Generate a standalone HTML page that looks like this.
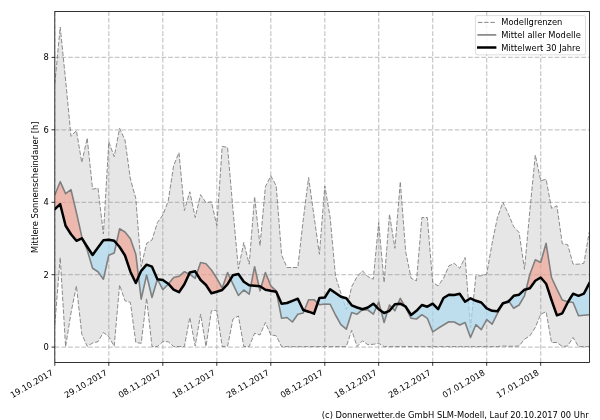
<!DOCTYPE html>
<html lang="de"><head><meta charset="utf-8"><title>Mittlere Sonnenscheindauer</title>
<style>html,body{margin:0;padding:0;background:#fff}body{width:600px;height:420px;overflow:hidden}</style></head>
<body>
<svg width="600" height="420" viewBox="0 0 600 420" style="display:block;font-family:'DejaVu Sans','Liberation Sans',sans-serif;font-size:8.33px">
<rect width="600" height="420" fill="#fff"/>
<defs><clipPath id="c"><rect x="54.8" y="11.5" width="534.6" height="351.0"/></clipPath></defs>
<g clip-path="url(#c)">
<g stroke="#b0b0b0" stroke-opacity="0.7" stroke-width="1.25" stroke-dasharray="4.7 1.965">
<line x1="54.8" y1="362.5" x2="54.8" y2="11.5"/>
<line x1="108.8" y1="362.5" x2="108.8" y2="11.5"/>
<line x1="162.8" y1="362.5" x2="162.8" y2="11.5"/>
<line x1="216.8" y1="362.5" x2="216.8" y2="11.5"/>
<line x1="270.8" y1="362.5" x2="270.8" y2="11.5"/>
<line x1="324.8" y1="362.5" x2="324.8" y2="11.5"/>
<line x1="378.7" y1="362.5" x2="378.7" y2="11.5"/>
<line x1="432.7" y1="362.5" x2="432.7" y2="11.5"/>
<line x1="486.7" y1="362.5" x2="486.7" y2="11.5"/>
<line x1="540.7" y1="362.5" x2="540.7" y2="11.5"/>
<line x1="54.8" y1="347.1" x2="589.4" y2="347.1"/>
<line x1="54.8" y1="274.7" x2="589.4" y2="274.7"/>
<line x1="54.8" y1="202.3" x2="589.4" y2="202.3"/>
<line x1="54.8" y1="129.8" x2="589.4" y2="129.8"/>
<line x1="54.8" y1="57.4" x2="589.4" y2="57.4"/>
</g>
<polygon points="54.8,84.0 60.2,27.0 65.6,80.0 71.0,136.3 76.4,130.5 81.8,162.5 87.2,138.0 92.6,189.2 98.0,188.0 103.4,234.0 108.8,141.7 114.2,156.7 119.6,128.3 125.0,140.0 130.4,179.0 135.8,198.3 141.2,266.7 146.6,243.3 152.0,240.0 157.4,222.5 162.8,215.0 168.2,201.0 173.6,165.8 179.0,152.5 184.4,210.5 189.8,191.8 195.2,217.5 200.6,194.7 206.0,202.7 211.4,201.8 216.8,225.5 222.2,146.3 227.6,147.5 233.0,210.0 238.4,269.0 243.8,242.5 249.2,264.2 254.6,196.7 260.0,245.8 265.4,186.7 270.8,175.8 276.2,185.8 281.6,255.0 287.0,267.5 292.4,267.5 297.8,267.5 303.2,220.0 308.6,177.5 314.0,216.0 319.4,254.2 324.8,186.0 330.1,217.0 335.5,276.3 340.9,293.3 346.3,309.5 351.7,286.7 357.1,276.5 362.5,270.8 367.9,276.7 373.3,279.2 378.7,222.5 384.1,282.5 389.5,214.2 394.9,248.3 400.3,181.7 405.7,251.7 411.1,278.2 416.5,280.8 421.9,217.5 427.3,217.5 432.7,282.5 438.1,285.8 443.5,278.3 448.9,265.8 454.3,263.3 459.7,268.3 465.1,257.5 470.5,327.5 475.9,275.8 481.3,275.8 486.7,274.2 492.1,243.3 497.5,217.2 502.9,202.2 508.3,213.7 513.7,226.7 519.1,232.5 524.5,269.2 529.9,210.0 535.3,155.0 540.7,180.8 546.1,179.2 551.5,208.3 556.9,205.8 562.3,243.7 567.7,244.7 573.1,264.2 578.5,264.2 583.9,263.3 589.3,231.7 589.3,346.6 583.9,346.6 578.5,346.6 573.1,337.5 567.7,346.0 562.3,346.5 556.9,342.5 551.5,342.5 546.1,311.7 540.7,314.2 535.3,327.5 529.9,335.8 524.5,339.2 519.1,346.0 513.7,346.3 508.3,346.3 502.9,346.0 497.5,346.6 492.1,346.6 486.7,346.6 481.3,346.6 475.9,346.6 470.5,346.6 465.1,346.6 459.7,346.6 454.3,346.6 448.9,346.6 443.5,346.6 438.1,346.6 432.7,346.6 427.3,346.6 421.9,346.6 416.5,346.6 411.1,346.6 405.7,346.6 400.3,346.6 394.9,346.6 389.5,346.6 384.1,346.6 378.7,343.3 373.3,344.3 367.9,344.7 362.5,340.8 357.1,346.5 351.7,330.3 346.3,346.6 340.9,346.6 335.5,346.6 330.1,346.6 324.8,346.6 319.4,346.6 314.0,346.6 308.6,346.6 303.2,346.6 297.8,346.6 292.4,346.6 287.0,346.6 281.6,346.6 276.2,335.8 270.8,335.0 265.4,322.5 260.0,335.0 254.6,333.3 249.2,346.5 243.8,346.5 238.4,316.0 233.0,319.0 227.6,346.2 222.2,346.5 216.8,310.3 211.4,310.8 206.0,346.5 200.6,314.2 195.2,346.0 189.8,317.5 184.4,346.5 179.0,346.5 173.6,346.5 168.2,341.7 162.8,341.7 157.4,346.5 152.0,346.5 146.6,298.3 141.2,343.3 135.8,342.5 130.4,302.5 125.0,300.8 119.6,285.0 114.2,346.3 108.8,336.7 103.4,332.5 98.0,341.7 92.6,343.0 87.2,346.3 81.8,334.2 76.4,285.8 71.0,313.0 65.6,346.7 60.2,257.5 54.8,325.0" fill="#808080" fill-opacity="0.2"/>
<polyline points="54.8,84.0 60.2,27.0 65.6,80.0 71.0,136.3 76.4,130.5 81.8,162.5 87.2,138.0 92.6,189.2 98.0,188.0 103.4,234.0 108.8,141.7 114.2,156.7 119.6,128.3 125.0,140.0 130.4,179.0 135.8,198.3 141.2,266.7 146.6,243.3 152.0,240.0 157.4,222.5 162.8,215.0 168.2,201.0 173.6,165.8 179.0,152.5 184.4,210.5 189.8,191.8 195.2,217.5 200.6,194.7 206.0,202.7 211.4,201.8 216.8,225.5 222.2,146.3 227.6,147.5 233.0,210.0 238.4,269.0 243.8,242.5 249.2,264.2 254.6,196.7 260.0,245.8 265.4,186.7 270.8,175.8 276.2,185.8 281.6,255.0 287.0,267.5 292.4,267.5 297.8,267.5 303.2,220.0 308.6,177.5 314.0,216.0 319.4,254.2 324.8,186.0 330.1,217.0 335.5,276.3 340.9,293.3 346.3,309.5 351.7,286.7 357.1,276.5 362.5,270.8 367.9,276.7 373.3,279.2 378.7,222.5 384.1,282.5 389.5,214.2 394.9,248.3 400.3,181.7 405.7,251.7 411.1,278.2 416.5,280.8 421.9,217.5 427.3,217.5 432.7,282.5 438.1,285.8 443.5,278.3 448.9,265.8 454.3,263.3 459.7,268.3 465.1,257.5 470.5,327.5 475.9,275.8 481.3,275.8 486.7,274.2 492.1,243.3 497.5,217.2 502.9,202.2 508.3,213.7 513.7,226.7 519.1,232.5 524.5,269.2 529.9,210.0 535.3,155.0 540.7,180.8 546.1,179.2 551.5,208.3 556.9,205.8 562.3,243.7 567.7,244.7 573.1,264.2 578.5,264.2 583.9,263.3 589.3,231.7" fill="none" stroke="#808080" stroke-width="0.9" stroke-dasharray="4.5 1.8"/>
<polyline points="54.8,325.0 60.2,257.5 65.6,346.7 71.0,313.0 76.4,285.8 81.8,334.2 87.2,346.3 92.6,343.0 98.0,341.7 103.4,332.5 108.8,336.7 114.2,346.3 119.6,285.0 125.0,300.8 130.4,302.5 135.8,342.5 141.2,343.3 146.6,298.3 152.0,346.5 157.4,346.5 162.8,341.7 168.2,341.7 173.6,346.5 179.0,346.5 184.4,346.5 189.8,317.5 195.2,346.0 200.6,314.2 206.0,346.5 211.4,310.8 216.8,310.3 222.2,346.5 227.6,346.2 233.0,319.0 238.4,316.0 243.8,346.5 249.2,346.5 254.6,333.3 260.0,335.0 265.4,322.5 270.8,335.0 276.2,335.8 281.6,346.6 287.0,346.6 292.4,346.6 297.8,346.6 303.2,346.6 308.6,346.6 314.0,346.6 319.4,346.6 324.8,346.6 330.1,346.6 335.5,346.6 340.9,346.6 346.3,346.6 351.7,330.3 357.1,346.5 362.5,340.8 367.9,344.7 373.3,344.3 378.7,343.3 384.1,346.6 389.5,346.6 394.9,346.6 400.3,346.6 405.7,346.6 411.1,346.6 416.5,346.6 421.9,346.6 427.3,346.6 432.7,346.6 438.1,346.6 443.5,346.6 448.9,346.6 454.3,346.6 459.7,346.6 465.1,346.6 470.5,346.6 475.9,346.6 481.3,346.6 486.7,346.6 492.1,346.6 497.5,346.6 502.9,346.0 508.3,346.3 513.7,346.3 519.1,346.0 524.5,339.2 529.9,335.8 535.3,327.5 540.7,314.2 546.1,311.7 551.5,342.5 556.9,342.5 562.3,346.5 567.7,346.0 573.1,337.5 578.5,346.6 583.9,346.6 589.3,346.6" fill="none" stroke="#808080" stroke-width="0.9" stroke-dasharray="4.5 1.8"/>
<g fill="#f0a494" fill-opacity="0.7">
<polygon points="54.80,195.00 60.20,181.70 65.60,193.70 71.00,189.70 76.40,212.50 81.80,236.70 83.56,241.04 83.56,241.04 81.80,238.30 76.40,240.80 71.00,234.20 65.60,225.80 60.20,204.20 54.80,209.20"/>
<polygon points="116.36,243.29 119.59,228.80 124.99,232.00 130.39,238.70 135.78,254.20 138.50,276.86 138.50,276.86 135.78,283.00 130.39,271.70 124.99,255.50 119.59,247.00 116.36,243.29"/>
<polygon points="168.39,283.94 173.58,277.50 178.98,276.30 184.38,271.70 189.13,273.90 189.13,273.90 184.38,284.20 178.98,292.20 173.58,289.70 168.39,283.94"/>
<polygon points="196.72,273.79 200.57,262.50 205.97,263.70 211.37,270.00 216.77,278.30 222.17,288.00 227.57,272.50 230.62,279.11 230.62,279.11 227.57,284.20 222.17,290.00 216.77,291.70 211.37,293.30 205.97,285.00 200.57,280.00 196.72,273.79"/>
<polygon points="250.88,285.46 254.56,266.70 258.93,286.20 258.93,286.20 254.56,285.80 250.88,285.46"/>
<polygon points="261.08,287.01 265.36,272.50 270.76,285.80 276.16,290.80 276.47,292.40 276.47,292.40 276.16,291.70 270.76,290.80 265.36,289.70 261.08,287.01"/>
<polygon points="304.23,310.34 308.55,299.70 313.95,299.70 317.60,303.08 317.60,303.08 313.95,313.70 308.55,311.70 304.23,310.34"/>
<polygon points="376.54,306.96 378.74,302.00 381.07,310.84 381.07,310.84 378.74,309.20 376.54,306.96"/>
<polygon points="387.49,311.63 389.54,305.00 392.06,307.71 392.06,307.71 389.54,310.80 387.49,311.63"/>
<polygon points="397.91,303.93 400.34,298.30 405.04,306.31 405.04,306.31 400.34,303.70 397.91,303.93"/>
<polygon points="505.23,302.61 508.32,300.50 508.79,301.18 508.79,301.18 508.32,301.70 505.23,302.61"/>
<polygon points="526.14,289.28 529.91,274.20 535.31,259.80 540.71,262.50 546.11,243.30 551.51,277.50 556.91,289.20 562.31,300.00 567.70,301.70 568.15,301.77 568.15,301.77 567.70,302.50 562.31,313.30 556.91,315.30 551.51,300.00 546.11,283.70 540.71,277.50 535.31,280.80 529.91,288.30 526.14,289.28"/>
</g>
<g fill="#addaf0" fill-opacity="0.7">
<polygon points="83.56,241.04 87.19,250.00 92.59,268.30 97.99,271.70 103.39,279.20 108.79,255.20 114.19,253.00 116.36,243.29 116.36,243.29 114.19,240.80 108.79,239.70 103.39,240.30 97.99,247.50 92.59,255.00 87.19,246.70 83.56,241.04"/>
<polygon points="138.50,276.86 141.18,299.20 146.58,275.00 151.98,297.50 157.38,279.20 162.78,289.70 168.18,284.20 168.39,283.94 168.39,283.94 168.18,283.70 162.78,280.00 157.38,279.20 151.98,266.70 146.58,264.70 141.18,270.80 138.50,276.86"/>
<polygon points="189.13,273.90 189.77,274.20 195.17,278.30 196.72,273.79 196.72,273.79 195.17,271.30 189.77,272.50 189.13,273.90"/>
<polygon points="230.62,279.11 232.97,284.20 238.37,295.50 243.76,290.00 249.16,294.20 250.88,285.46 250.88,285.46 249.16,285.30 243.76,281.70 238.37,274.00 232.97,275.20 230.62,279.11"/>
<polygon points="258.93,286.20 259.96,290.80 261.08,287.01 261.08,287.01 259.96,286.30 258.93,286.20"/>
<polygon points="276.47,292.40 281.56,318.30 286.96,317.50 292.36,322.00 297.75,314.20 303.15,313.00 304.23,310.34 304.23,310.34 303.15,310.00 297.75,298.70 292.36,300.80 286.96,303.00 281.56,303.70 276.47,292.40"/>
<polygon points="317.60,303.08 319.35,304.70 324.75,304.00 330.15,304.20 335.55,315.00 340.95,324.70 346.35,329.20 351.75,312.50 357.14,314.20 362.54,309.70 367.94,310.00 373.34,314.20 376.54,306.96 376.54,306.96 373.34,303.70 367.94,307.50 362.54,309.20 357.14,307.50 351.75,305.30 346.35,298.30 340.95,296.70 335.55,293.00 330.15,289.20 324.75,297.50 319.35,298.00 317.60,303.08"/>
<polygon points="381.07,310.84 384.14,322.50 387.49,311.63 387.49,311.63 384.14,313.00 381.07,310.84"/>
<polygon points="392.06,307.71 394.94,310.80 397.91,303.93 397.91,303.93 394.94,304.20 392.06,307.71"/>
<polygon points="405.04,306.31 405.74,307.50 411.13,318.30 416.53,319.00 421.93,314.70 427.33,318.30 432.73,331.80 438.13,328.30 443.53,325.00 448.93,321.70 454.33,322.00 459.73,325.00 465.12,322.50 470.52,337.50 475.92,324.70 481.32,329.70 486.72,319.70 492.12,324.20 497.52,313.30 502.92,304.20 505.23,302.61 505.23,302.61 502.92,303.30 497.52,311.30 492.12,310.80 486.72,308.30 481.32,302.50 475.92,300.80 470.52,298.30 465.12,301.70 459.73,293.80 454.33,295.00 448.93,294.70 443.53,298.00 438.13,309.20 432.73,303.70 427.33,306.70 421.93,305.00 416.53,310.80 411.13,315.00 405.74,306.70 405.04,306.31"/>
<polygon points="508.79,301.18 513.72,308.30 519.11,305.00 524.51,295.80 526.14,289.28 526.14,289.28 524.51,289.70 519.11,294.70 513.72,295.80 508.79,301.18"/>
<polygon points="568.15,301.77 573.10,302.50 578.50,315.80 583.90,315.30 589.30,314.70 589.30,283.30 583.90,293.70 578.50,295.80 573.10,293.70 568.15,301.77"/>
</g>
<polyline points="54.8,195.0 60.2,181.7 65.6,193.7 71.0,189.7 76.4,212.5 81.8,236.7 87.2,250.0 92.6,268.3 98.0,271.7 103.4,279.2 108.8,255.2 114.2,253.0 119.6,228.8 125.0,232.0 130.4,238.7 135.8,254.2 141.2,299.2 146.6,275.0 152.0,297.5 157.4,279.2 162.8,289.7 168.2,284.2 173.6,277.5 179.0,276.3 184.4,271.7 189.8,274.2 195.2,278.3 200.6,262.5 206.0,263.7 211.4,270.0 216.8,278.3 222.2,288.0 227.6,272.5 233.0,284.2 238.4,295.5 243.8,290.0 249.2,294.2 254.6,266.7 260.0,290.8 265.4,272.5 270.8,285.8 276.2,290.8 281.6,318.3 287.0,317.5 292.4,322.0 297.8,314.2 303.2,313.0 308.6,299.7 314.0,299.7 319.4,304.7 324.8,304.0 330.1,304.2 335.5,315.0 340.9,324.7 346.3,329.2 351.7,312.5 357.1,314.2 362.5,309.7 367.9,310.0 373.3,314.2 378.7,302.0 384.1,322.5 389.5,305.0 394.9,310.8 400.3,298.3 405.7,307.5 411.1,318.3 416.5,319.0 421.9,314.7 427.3,318.3 432.7,331.8 438.1,328.3 443.5,325.0 448.9,321.7 454.3,322.0 459.7,325.0 465.1,322.5 470.5,337.5 475.9,324.7 481.3,329.7 486.7,319.7 492.1,324.2 497.5,313.3 502.9,304.2 508.3,300.5 513.7,308.3 519.1,305.0 524.5,295.8 529.9,274.2 535.3,259.8 540.7,262.5 546.1,243.3 551.5,277.5 556.9,289.2 562.3,300.0 567.7,301.7 573.1,302.5 578.5,315.8 583.9,315.3 589.3,314.7" fill="none" stroke="#808080" stroke-width="1.6" stroke-linejoin="round"/>
<polyline points="54.8,209.2 60.2,204.2 65.6,225.8 71.0,234.2 76.4,240.8 81.8,238.3 87.2,246.7 92.6,255.0 98.0,247.5 103.4,240.3 108.8,239.7 114.2,240.8 119.6,247.0 125.0,255.5 130.4,271.7 135.8,283.0 141.2,270.8 146.6,264.7 152.0,266.7 157.4,279.2 162.8,280.0 168.2,283.7 173.6,289.7 179.0,292.2 184.4,284.2 189.8,272.5 195.2,271.3 200.6,280.0 206.0,285.0 211.4,293.3 216.8,291.7 222.2,290.0 227.6,284.2 233.0,275.2 238.4,274.0 243.8,281.7 249.2,285.3 254.6,285.8 260.0,286.3 265.4,289.7 270.8,290.8 276.2,291.7 281.6,303.7 287.0,303.0 292.4,300.8 297.8,298.7 303.2,310.0 308.6,311.7 314.0,313.7 319.4,298.0 324.8,297.5 330.1,289.2 335.5,293.0 340.9,296.7 346.3,298.3 351.7,305.3 357.1,307.5 362.5,309.2 367.9,307.5 373.3,303.7 378.7,309.2 384.1,313.0 389.5,310.8 394.9,304.2 400.3,303.7 405.7,306.7 411.1,315.0 416.5,310.8 421.9,305.0 427.3,306.7 432.7,303.7 438.1,309.2 443.5,298.0 448.9,294.7 454.3,295.0 459.7,293.8 465.1,301.7 470.5,298.3 475.9,300.8 481.3,302.5 486.7,308.3 492.1,310.8 497.5,311.3 502.9,303.3 508.3,301.7 513.7,295.8 519.1,294.7 524.5,289.7 529.9,288.3 535.3,280.8 540.7,277.5 546.1,283.7 551.5,300.0 556.9,315.3 562.3,313.3 567.7,302.5 573.1,293.7 578.5,295.8 583.9,293.7 589.3,283.3" fill="none" stroke="#000" stroke-width="2.5" stroke-linejoin="round" stroke-linecap="square"/>
</g>
<rect x="54.8" y="11.5" width="534.6" height="351.0" fill="none" stroke="#000" stroke-width="0.8"/>
<g stroke="#000" stroke-width="0.8">
<line x1="54.8" y1="362.5" x2="54.8" y2="365.8"/>
<line x1="108.8" y1="362.5" x2="108.8" y2="365.8"/>
<line x1="162.8" y1="362.5" x2="162.8" y2="365.8"/>
<line x1="216.8" y1="362.5" x2="216.8" y2="365.8"/>
<line x1="270.8" y1="362.5" x2="270.8" y2="365.8"/>
<line x1="324.8" y1="362.5" x2="324.8" y2="365.8"/>
<line x1="378.7" y1="362.5" x2="378.7" y2="365.8"/>
<line x1="432.7" y1="362.5" x2="432.7" y2="365.8"/>
<line x1="486.7" y1="362.5" x2="486.7" y2="365.8"/>
<line x1="540.7" y1="362.5" x2="540.7" y2="365.8"/>
<line x1="51.5" y1="347.1" x2="54.8" y2="347.1"/>
<line x1="51.5" y1="274.7" x2="54.8" y2="274.7"/>
<line x1="51.5" y1="202.3" x2="54.8" y2="202.3"/>
<line x1="51.5" y1="129.8" x2="54.8" y2="129.8"/>
<line x1="51.5" y1="57.4" x2="54.8" y2="57.4"/>
</g>
<text x="48.8" y="350.1" text-anchor="end">0</text>
<text x="48.8" y="277.7" text-anchor="end">2</text>
<text x="48.8" y="205.3" text-anchor="end">4</text>
<text x="48.8" y="132.8" text-anchor="end">6</text>
<text x="48.8" y="60.4" text-anchor="end">8</text>
<text transform="translate(53.8,374.4) rotate(-30)" text-anchor="end">19.10.2017</text>
<text transform="translate(107.8,374.4) rotate(-30)" text-anchor="end">29.10.2017</text>
<text transform="translate(161.8,374.4) rotate(-30)" text-anchor="end">08.11.2017</text>
<text transform="translate(215.8,374.4) rotate(-30)" text-anchor="end">18.11.2017</text>
<text transform="translate(269.8,374.4) rotate(-30)" text-anchor="end">28.11.2017</text>
<text transform="translate(323.8,374.4) rotate(-30)" text-anchor="end">08.12.2017</text>
<text transform="translate(377.7,374.4) rotate(-30)" text-anchor="end">18.12.2017</text>
<text transform="translate(431.7,374.4) rotate(-30)" text-anchor="end">28.12.2017</text>
<text transform="translate(485.7,374.4) rotate(-30)" text-anchor="end">07.01.2018</text>
<text transform="translate(539.7,374.4) rotate(-30)" text-anchor="end">17.01.2018</text>
<text transform="translate(38.4,187.2) rotate(-90)" text-anchor="middle">Mittlere Sonnenscheindauer [h]</text>
<text x="588.6" y="418.3" text-anchor="end">(c) Donnerwetter.de GmbH SLM-Modell, Lauf 20.10.2017 00 Uhr</text>
<rect x="475.4" y="15.6" width="110.1" height="39.2" rx="1.7" fill="#fff" fill-opacity="0.8" stroke="#ccc" stroke-opacity="0.8" stroke-width="0.85"/>
<line x1="478" y1="22.4" x2="496" y2="22.4" stroke="#808080" stroke-width="0.95" stroke-dasharray="4.4 1.8"/>
<line x1="477.4" y1="34.9" x2="496.3" y2="34.9" stroke="#808080" stroke-width="1.6"/>
<line x1="477" y1="47.5" x2="496.4" y2="47.5" stroke="#000" stroke-width="2.5"/>
<text x="501.3" y="25.1">Modellgrenzen</text>
<text x="501.3" y="37.9">Mittel aller Modelle</text>
<text x="501.3" y="50.6">Mittelwert 30 Jahre</text>
</svg>
</body></html>
